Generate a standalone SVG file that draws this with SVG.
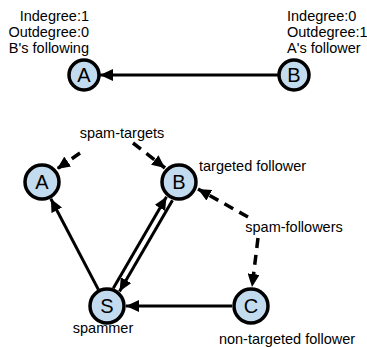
<svg xmlns="http://www.w3.org/2000/svg" width="367" height="347" viewBox="0 0 367 347">
<style>
text{font-family:"Liberation Sans",Arial,sans-serif;font-size:14.5px;fill:#000}
.lbl{font-size:20px;text-anchor:middle}
.node{fill:#c3dbee;stroke:#000;stroke-width:3.5}
.edge{stroke:#000;stroke-width:3;fill:none;marker-end:url(#ah)}
.dash{stroke-dasharray:10 7;stroke-width:3.5}
</style>
<defs>
<marker id="ah" markerUnits="userSpaceOnUse" markerWidth="13" markerHeight="12" refX="13" refY="6" orient="auto">
<path d="M0,0 L13,6 L0,12 z" fill="#000"/>
</marker>
</defs>
<g id="labels-top">
<text x="89" y="21" text-anchor="end">Indegree:1</text>
<text x="89" y="37" text-anchor="end">Outdegree:0</text>
<text x="89" y="53" text-anchor="end">B's following</text>
<text x="287" y="21">Indegree:0</text>
<text x="287" y="37">Outdegree:1</text>
<text x="287" y="53">A's follower</text>
</g>
<g id="connectors">
<line class="edge" x1="278" y1="75" x2="100" y2="75"/>
<line class="edge" x1="98.4" y1="289.6" x2="50.8" y2="198.8"/>
<line class="edge" x1="113.3" y1="288.2" x2="166.5" y2="196.7"/>
<line class="edge" x1="172.5" y1="200.2" x2="119.5" y2="291.4"/>
<line class="edge" x1="232" y1="306" x2="126" y2="306"/>
<line class="edge dash" x1="80" y1="153" x2="57" y2="169"/>
<line class="edge dash" x1="133" y1="143" x2="165" y2="168"/>
<line class="edge dash" x1="248" y1="217" x2="198" y2="189"/>
<line class="edge dash" x1="258" y1="238" x2="252" y2="287"/>
</g>
<g id="node-A-top"><circle class="node" cx="84" cy="75" r="15"/><text class="lbl" x="84" y="82">A</text></g>
<g id="node-B-top"><circle class="node" cx="294" cy="75" r="15"/><text class="lbl" x="294" y="82">B</text></g>
<g id="node-A"><circle class="node" cx="42" cy="182" r="17"/><text class="lbl" x="42" y="189">A</text></g>
<g id="node-B"><circle class="node" cx="179" cy="182" r="17"/><text class="lbl" x="179" y="189">B</text></g>
<g id="node-S"><circle class="node" cx="107" cy="306" r="17"/><text class="lbl" x="107" y="313">S</text></g>
<g id="node-C"><circle class="node" cx="251" cy="306" r="17"/><text class="lbl" x="251" y="313">C</text></g>
<g id="labels-bottom">
<text x="122" y="138" text-anchor="middle">spam-targets</text>
<text x="199" y="171">targeted follower</text>
<text x="294" y="232" text-anchor="middle">spam-followers</text>
<text x="103" y="333" text-anchor="middle">spammer</text>
<text x="287" y="344" text-anchor="middle">non-targeted follower</text>
</g>
</svg>
